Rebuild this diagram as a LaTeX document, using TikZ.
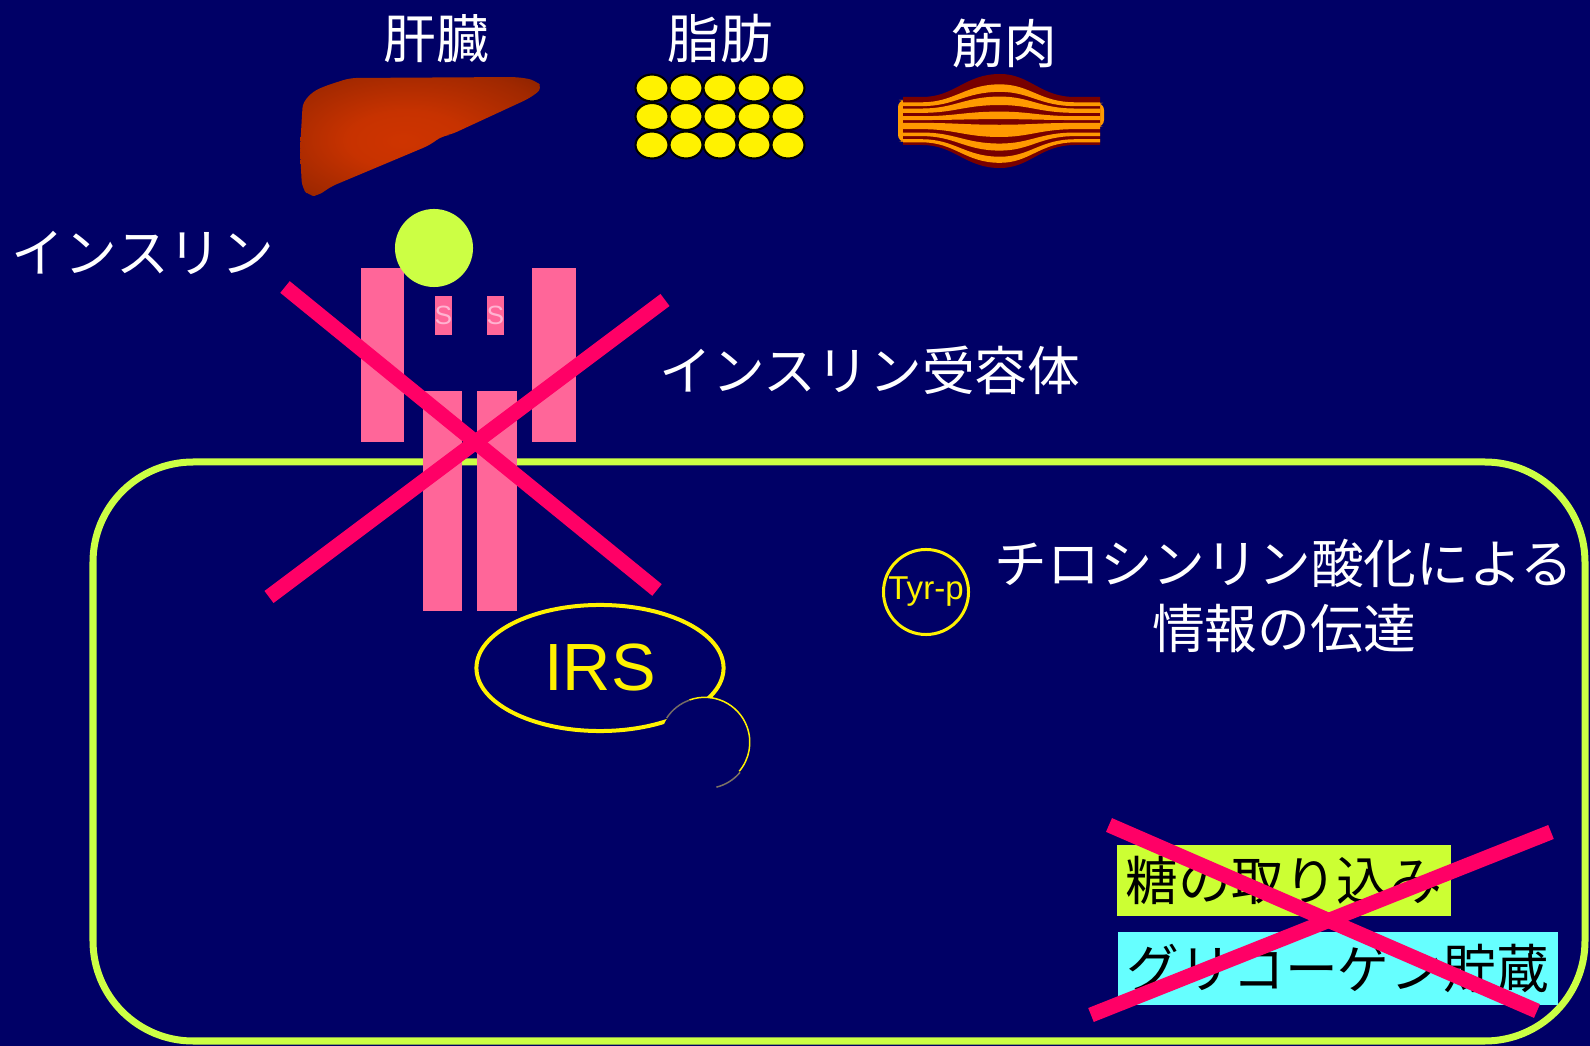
\documentclass[tikz,border=0pt]{standalone}
\usepackage{fontspec}
\setmainfont{Liberation Sans}
\newfontfamily\jpfont{Noto Sans CJK JP}
\usepackage{tikz}
\usetikzlibrary{shapes.geometric}

\definecolor{slidebg}{RGB}{0,0,102}
\definecolor{receptor}{RGB}{255,102,153}
\definecolor{sslink}{RGB}{255,179,209}
\definecolor{limegreen}{RGB}{204,255,68}
\definecolor{crossred}{RGB}{255,0,102}
\definecolor{liverdark}{RGB}{122,30,0}
\definecolor{liverlight}{RGB}{206,52,0}
\definecolor{musclered}{RGB}{120,0,0}
\definecolor{muscleorange}{RGB}{255,153,0}
\definecolor{glucosebox}{RGB}{204,255,51}
\definecolor{glycogenbox}{RGB}{102,255,255}

\pgfdeclareradialshading{livershade}{\pgfpoint{-4bp}{-2bp}}{%
  color(0bp)=(liverlight); color(12bp)=(liverlight!92!liverdark);
  color(30bp)=(liverlight!45!liverdark); color(42bp)=(liverdark); color(50bp)=(liverdark)}

\begin{document}
\begin{tikzpicture}[x=0.01cm, y=-0.01cm,
    tag/.style={text=white, font=\jpfont\fontsize{15}{18.5}\selectfont, inner sep=0pt},
    bar/.style={fill=receptor},
    ssbond/.style={rectangle, fill=receptor, text=sslink, minimum width=0.17cm, minimum height=0.39cm, inner sep=0pt, font=\fontsize{7.5}{8}\selectfont},
    cross/.style={draw=crossred, line width=0.15cm},
    fatcell/.style={fill=yellow, draw=black, line width=0.6pt},
    effect/.style={rectangle, anchor=west, text=black, font=\jpfont\fontsize{15}{18}\selectfont, inner xsep=2.6pt, minimum height=0.65cm}]

    \fill[slidebg] (0,0) rectangle (1590,1046);
    \useasboundingbox (0,0) rectangle (1590,1046);

    % organs
    \node[tag] (liverlabel) at (436,39) {肝臓};
    \node[tag] (fatlabel) at (720,39) {脂肪};
    \node[tag] (musclelabel) at (1004,43) {筋肉};

    \shade[shading=livershade, rounded corners=2pt]
        (302,115) .. controls (303,100) and (312,92) .. (325,86) -- (350,78) -- (517,77)
        -- (535,80) -- (543,88) -- (530,98) -- (450,135) -- (442,136) -- (430,145)
        -- (330,187) -- (318,196) -- (309,196) -- (302,188) -- (300,150) -- cycle;

    \foreach \i in {0,...,4}
      \foreach \j in {0,...,2}
        \draw[fatcell] ({652+34*\i},{88+28.5*\j}) ellipse [x radius=16.5, y radius=13.5];

    \fill[muscleorange, rounded corners=2pt] (898,100) rectangle (906,142);
    \fill[muscleorange, rounded corners=2pt] (1096,103) rectangle (1104,127);
    \fill[musclered] (903,97) -- (922,97) .. controls (955,97) and (965,74) .. (1000,74)
        .. controls (1030,74) and (1040,97) .. (1075,97) -- (1100,97)
        -- (1100,145) -- (1075,145) .. controls (1040,145) and (1030,168) .. (1000,168)
        .. controls (965,168) and (955,145) .. (922,145) -- (903,145) -- cycle;
    \foreach \a/\b in {-0.78/-0.62, -0.52/-0.34, -0.2/-0.04, 0.08/0.34, 0.48/0.63, 0.76/0.89}
      \fill[muscleorange] (903,{121+24*\a}) -- (922,{121+24*\a})
          .. controls (955,{121+24*\a}) and (965,{121+47*\a}) .. (1000,{121+47*\a})
          .. controls (1030,{121+47*\a}) and (1040,{121+24*\a}) .. (1075,{121+24*\a}) -- (1100,{121+24*\a})
          -- (1100,{121+24*\b}) -- (1075,{121+24*\b})
          .. controls (1040,{121+24*\b}) and (1030,{121+47*\b}) .. (1000,{121+47*\b})
          .. controls (965,{121+47*\b}) and (955,{121+24*\b}) .. (922,{121+24*\b}) -- (903,{121+24*\b}) -- cycle;

    % cell
    \draw[limegreen, line width=0.07cm, rounded corners=1cm] (93,462) rectangle (1585,1041);

    % receptor
    \fill[bar] (361,268) rectangle (404,442);
    \fill[bar] (532,268) rectangle (576,442);
    \fill[bar] (423,391) rectangle (462,611);
    \fill[bar] (477,391) rectangle (517,611);
    \node[ssbond] (ss1) at (443.5,315.5) {S};
    \node[ssbond] (ss2) at (495.5,315.5) {S};
    \node[circle, fill=limegreen, minimum size=0.78cm, inner sep=0pt] (insulin) at (434,248) {};

    \node[tag] (insulinlabel) at (143,253) {インスリン};
    \node[tag] (receptorlabel) at (870,370) {インスリン受容体};
    \node[tag, align=center] (signal) at (1284,596) {チロシンリン酸化による\\情報の伝達};

    % signalling inside the cell
    \node[ellipse, draw=yellow, line width=0.04cm, minimum width=2.47cm, minimum height=1.26cm, inner sep=0pt,
        text=yellow, font=\fontsize{19}{22}\selectfont] (irs) at (600,668) {IRS};
    \node[circle, fill=slidebg, minimum size=0.9cm, inner sep=0pt] (irstail) at (705,743) {};
    \draw[yellow!30!slidebg, line width=0.015cm] (irstail.147) arc[start angle=147, end angle=110, radius=0.45cm];
    \draw[yellow, line width=0.015cm] (irstail.110) arc[start angle=110, end angle=-40, radius=0.45cm];
    \draw[yellow!35!slidebg, line width=0.015cm] (irstail.-40) arc[start angle=-40, end angle=-76, radius=0.45cm];

    \node[circle, draw=yellow, line width=0.03cm, minimum size=0.85cm, inner sep=0pt,
        text=yellow, font=\fontsize{9.4}{11}\selectfont] (tyrp) at (926,592) {Tyr-p};

    \node[effect, fill=glucosebox] (glucose) at (1116,880.5) {糖の取り込み};
    \node[effect, fill=glycogenbox] (glycogen) at (1117,968.5) {グリコーゲン貯蔵};

    % blocked steps
    \draw[cross] (285,287) -- (657,590);
    \draw[cross] (665,300) -- (269,597);
    \draw[cross] (1109,825) -- (1537,1011);
    \draw[cross] (1551,832) -- (1091,1015);
\end{tikzpicture}
\end{document}
